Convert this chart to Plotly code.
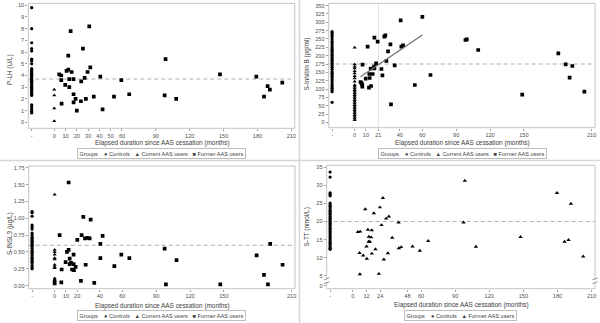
import numpy as np
import plotly.graph_objects as go

W, H = 600, 323
CTRL_POS = -20            # x position of the "-" category holding the controls
X_RANGE = [-23, 213]
FONT = "Liberation Sans, Arial, sans-serif"

# ---------------- P-LH (U/L) ----------------
lh_controls = [9.8, 8.0, 6.8, 6.3, 6.1, 5.4, 5.25, 5.0, 4.6, 4.5, 4.4, 4.3, 4.2, 4.1, 4.0,
               3.9, 3.8, 3.7, 3.6, 3.5, 3.4, 3.3, 3.2, 3.1, 3.0, 2.9, 2.8, 2.7, 2.6, 2.5,
               2.4, 2.3, 1.5, 1.35, 1.15, 1.0, 0.9, 0.8]
lh_current = [2.8, 2.3, 1.2, 0.1]
lh_former_months = [4.4, 6.2, 6.2, 6.5, 9.7, 10.9, 12.4, 12.4, 13.3, 13.3, 14.5, 15.4, 17.1, 17.1,
                    17.1, 18.9, 20.0, 23.6, 23.9, 25.4, 26.9, 28.0, 29.5, 31.0, 31.9, 35.0, 40.8,
                    42.8, 52.9, 59.4, 66.4, 97.8, 98.6, 108.0, 146.8, 179.0, 185.8, 189.0, 191.0, 202.0]
lh_former = [4.1, 4.0, 3.6, 1.6, 3.2, 4.4, 4.5, 5.7, 3.7, 3.0, 7.8, 4.3, 3.7, 2.4,
             1.7, 2.0, 1.0, 1.8, 3.5, 6.3, 3.8, 2.0, 4.3, 8.2, 4.7, 2.2, 3.9,
             1.1, 2.2, 3.6, 2.4, 2.3, 5.4, 2.0, 4.1, 3.9, 2.2, 3.1, 2.8, 3.4]
lh_ref = 3.7
lh_xticks = [0, 10, 20, 30, 40, 50, 60, 90, 120, 150, 180, 210]

# ---------------- S-Inhibin B (pg/ml) ----------------
inh_controls = [272, 268, 263, 257, 250, 243, 238, 232, 226, 221, 216, 211, 206, 201, 196, 191,
                186, 181, 176, 170, 165, 159, 152, 147, 142, 137, 131, 125, 118, 112, 107, 102,
                97, 92, 60]
inh_current = [224, 174, 167, 162, 154, 147, 139, 132, 122, 112, 107, 102, 97, 92, 87, 82,
               77, 72, 67, 62, 57, 52, 47, 42, 37, 32, 27, 22, 17, 12, 7]
inh_former_months = [5.2, 6.0, 6.6, 6.8, 7.0, 9.8, 11.5, 12.7, 13.0, 13.3, 14.2, 14.5, 16.0, 17.2,
                     17.5, 17.5, 19.0, 20.4, 23.7, 24.6, 26.3, 27.2, 28.1, 29.6, 31.7, 32.2, 35.5,
                     40.8, 41.4, 42.9, 53.3, 60.0, 67.2, 98.2, 99.4, 109.5, 148.5, 180.5, 187.0,
                     190.5, 192.9, 203.6]
inh_former = [121, 118, 114, 107, 173, 131, 227, 104, 145, 133, 161, 109, 145, 167,
              162, 254, 177, 242, 160, 141, 257, 261, 184, 213, 234, 54, 171,
              306, 227, 231, 112, 316, 142, 247, 249, 217, 83, 207, 174,
              134, 169, 92]
inh_ref = 175
inh_cut = 21
inh_fit_max = 60
inh_xticks = [0, 10, 21, 40, 60, 90, 120, 150, 210]

# ---------------- S-INSL3 (µg/L) ----------------
insl_controls = [1.10, 1.08, 1.03, 0.90, 0.87, 0.84, 0.78, 0.75, 0.72, 0.70, 0.68, 0.66, 0.64,
                 0.62, 0.60, 0.58, 0.55, 0.52, 0.50, 0.48, 0.45, 0.42, 0.40, 0.38, 0.36, 0.34,
                 0.30, 0.27, 0.25]
insl_current = [1.35, 0.53, 0.50, 0.46, 0.41, 0.39, 0.31, 0.28, 0.26, 0.11, 0.09, 0.08, 0.07,
                0.06, 0.05, 0.04, 0.03, 0.02]
insl_former_months = [4.4, 5.9, 6.2, 9.7, 10.9, 12.4, 12.4, 13.3, 13.3, 14.5, 15.4, 16.8, 16.8,
                      17.1, 18.6, 20.1, 23.3, 23.9, 25.4, 26.9, 27.5, 29.2, 31.0, 31.9, 35.1,
                      40.5, 40.5, 42.5, 52.9, 59.1, 66.2, 97.5, 98.6, 108.0, 146.8, 179.0,
                      185.5, 189.0, 191.0, 202.0]
insl_former = [0.75, 0.05, 0.24, 0.35, 0.50, 0.53, 1.53, 0.40, 0.32, 0.34, 0.24, 0.32, 0.46,
               0.23, 0.28, 0.68, 0.07, 0.75, 1.02, 0.70, 0.31, 0.71, 0.70, 0.98, 0.04,
               0.62, 0.41, 0.74, 0.29, 0.46, 0.41, 0.55, 0.02, 0.38, 0.02, 0.45,
               0.16, 0.02, 0.62, 0.31]
insl_ref = 0.60
insl_xticks = [0, 10, 20, 40, 60, 90, 120, 150, 210]

# ---------------- S-TT (nmol/L) ----------------
tt_controls = [33.7, 32.3, 27.9, 27.5, 27.1, 25.1, 24.6, 24.2, 23.7, 23.2, 22.8, 22.3, 21.9,
               21.4, 20.9, 20.5, 20.0, 19.5, 19.1, 18.6, 18.1, 17.7, 17.2, 16.8, 16.3, 15.8,
               15.4, 14.9, 14.4, 14.0, 13.5, 13.0, 12.6, 12.3]
tt_former_months = [4.4, 6.5, 5.9, 6.2, 9.1, 10.9, 12.0, 12.3, 13.2, 14.1, 13.8, 15.0, 16.1,
                    16.7, 16.7, 18.5, 19.9, 22.9, 23.8, 25.2, 26.4, 27.3, 29.3, 30.8, 31.7,
                    34.6, 40.2, 40.5, 42.5, 52.5, 58.9, 66.3, 97.4, 98.5, 108.2, 147.5,
                    179.5, 186.2, 189.7, 191.8, 202.6]
tt_former = [17.1, 17.2, 11.3, 5.4, 10.6, 23.4, 13.1, 9.7, 17.7, 15.8, 14.4, 14.4, 15.6,
             17.6, 11.1, 22.3, 12.3, 5.5, 23.9, 19.0, 26.5, 9.5, 20.8, 11.2, 21.4,
             15.5, 19.7, 12.6, 12.9, 13.1, 11.9, 14.6, 19.7, 31.3, 13.0, 15.7,
             27.9, 14.4, 14.9, 24.9, 10.3]
tt_ref = 20
tt_xticks = [0, 12, 24, 48, 60, 90, 120, 150, 180, 210]


def fx(px):
    return px / W


def fy(py):
    return 1 - py / H


fig = go.Figure()

MK = dict(color="black")


def add_groups(xa, ya, controls, current, months, former, former_symbol="square"):
    fig.add_trace(go.Scatter(x=[CTRL_POS] * len(controls), y=controls, mode="markers",
                             xaxis=xa, yaxis=ya, showlegend=False, name="Controls",
                             marker=dict(symbol="circle", size=3.2, **MK)))
    if current is not None:
        fig.add_trace(go.Scatter(x=[0] * len(current), y=current, mode="markers",
                                 xaxis=xa, yaxis=ya, showlegend=False, name="Current AAS users",
                                 marker=dict(symbol="triangle-up", size=3.7, **MK)))
    fig.add_trace(go.Scatter(x=months, y=former, mode="markers",
                             xaxis=xa, yaxis=ya, showlegend=False, name="Former AAS users",
                             marker=dict(symbol=former_symbol,
                                         size=3.9 if former_symbol != "square" else 3.7, **MK)))


add_groups("x", "y", lh_controls, lh_current, lh_former_months, lh_former)
add_groups("x2", "y2", inh_controls, inh_current, inh_former_months, inh_former)
add_groups("x3", "y3", insl_controls, insl_current, insl_former_months, insl_former)
add_groups("x4", "y4", tt_controls, None, tt_former_months, tt_former, former_symbol="triangle-up")
# lower (0) segment of the broken S-TT axis
fig.add_trace(go.Scatter(x=[], y=[], xaxis="x4", yaxis="y5", showlegend=False))

# Linear fit of inhibin B on elapsed time for former users up to 60 months
m = np.array(inh_former_months)
v = np.array(inh_former)
sel = m <= inh_fit_max
slope, icpt = np.polyfit(m[sel], v[sel], 1)
fit_x = np.array([m[sel].min(), m[sel].max()])
fig.add_trace(go.Scatter(x=fit_x, y=icpt + slope * fit_x, mode="lines", xaxis="x2", yaxis="y2",
                         showlegend=False, line=dict(color="#6b6b6b", width=1.1)))

TICKFONT = dict(family=FONT, size=5.6, color="#505050")
common = dict(showgrid=False, zeroline=False, showline=False, ticks="outside", ticklen=2,
              tickwidth=1, tickcolor="#a0a0a0", tickfont=TICKFONT)


def xax(dom, anchor, ticks):
    return dict(domain=dom, anchor=anchor, range=X_RANGE,
                tickvals=[CTRL_POS] + ticks, ticktext=["-"] + [str(t) for t in ticks], **common)


layout = dict(
    width=W, height=H, margin=dict(l=0, r=0, t=0, b=0),
    paper_bgcolor="white", plot_bgcolor="white", showlegend=False,
    xaxis=xax([fx(28.3), fx(294.7)], "y", lh_xticks),
    yaxis=dict(domain=[fy(128.3), fy(3.3)], anchor="x", range=[-0.51, 10.17],
               tickvals=list(range(0, 11)), **common),
    xaxis2=xax([fx(328.7), fx(595)], "y2", inh_xticks),
    yaxis2=dict(domain=[fy(127.7), fy(3.3)], anchor="x2", range=[-16, 357],
                tickvals=list(range(0, 351, 25)), **common),
    xaxis3=xax([fx(28.7), fx(295)], "y3", insl_xticks),
    yaxis3=dict(domain=[fy(288.7), fy(166)], anchor="x3", range=[-0.045, 1.775],
                tickvals=[i * 0.25 for i in range(8)], tickformat=".2f", **common),
    xaxis4=xax([fx(326.7), fx(595)], "y5", tt_xticks),
    yaxis4=dict(domain=[fy(278.5), fy(165.3)], anchor="x4", range=[4.22, 35.55],
                tickvals=list(range(5, 36, 5)), **common),
    yaxis5=dict(domain=[fy(288.7), fy(283)], anchor="x4", range=[-0.75, 0.83],
                tickvals=[0], **common),
)
fig.update_layout(**layout)

FRAME = dict(color="#c4c4c4", width=1)
shapes = []
# plot frames
for x0, x1, y0, y1 in [(28.3, 294.7, 3.3, 128.3), (328.7, 595, 3.3, 127.7),
                       (28.7, 295, 166, 288.7)]:
    shapes.append(dict(type="rect", xref="paper", yref="paper", x0=fx(x0), x1=fx(x1),
                       y0=fy(y1), y1=fy(y0), line=FRAME))
# broken-axis frame for S-TT
L4, R4, T4, B4 = 326.7, 595, 165.3, 288.7
for (xa, ya, xb, yb) in [(L4, T4, R4, T4), (L4, B4, R4, B4),
                         (L4, T4, L4, 278.5), (L4, 283, L4, B4),
                         (R4, T4, R4, 278.5), (R4, 283, R4, B4)]:
    shapes.append(dict(type="line", xref="paper", yref="paper", x0=fx(xa), y0=fy(ya),
                       x1=fx(xb), y1=fy(yb), line=FRAME))
for xc in (L4, R4):
    for yc in (278.9, 282.6):
        shapes.append(dict(type="line", xref="paper", yref="paper", x0=fx(xc - 2.5),
                           y0=fy(yc + 1), x1=fx(xc + 2.5), y1=fy(yc - 1),
                           line=dict(color="#8a8a8a", width=1)))
# panel separators
shapes.append(dict(type="line", xref="paper", yref="paper", x0=fx(299.5), x1=fx(299.5),
                   y0=0, y1=1, line=dict(color="#d6d6d6", width=1.5)))
shapes.append(dict(type="line", xref="paper", yref="paper", x0=0, x1=1,
                   y0=fy(160.5), y1=fy(160.5), line=dict(color="#d6d6d6", width=1.5)))

# reference levels
DASH = dict(color="#b0b0b0", width=1, dash="4px,3px")
for xr, yr, val in [("x", "y", lh_ref), ("x2", "y2", inh_ref), ("x3", "y3", insl_ref),
                    ("x4", "y4", tt_ref)]:
    shapes.append(dict(type="line", xref=f"{xr} domain", yref=yr, x0=0, x1=1, y0=val, y1=val,
                       line=DASH, layer="below"))
shapes.append(dict(type="line", xref="x2", yref="y2 domain", x0=inh_cut, x1=inh_cut, y0=0, y1=1,
                   line=dict(color="#e0e0e0", width=1), layer="below"))
fig.update_layout(shapes=shapes)

TITLE = dict(family=FONT, size=6.4, color="#404040")
ann = []
for text, xp, yp in [("P-LH (U/L)", 10, 70), ("S-Inhibin B (pg/ml)", 306.5, 64),
                     ("S-INSL3 (µg/L)", 10, 234), ("S-TT (nmol/L)", 306.5, 227)]:
    ann.append(dict(text=text, x=fx(xp), y=fy(yp), xref="paper", yref="paper",
                    textangle=-90, showarrow=False, font=TITLE, xanchor="center", yanchor="middle"))
xt = "Elapsed duration since AAS cessation (months)"
for xp, yp in [(162, 142.7), (463, 142.7), (162, 305.7), (461.5, 305.3)]:
    ann.append(dict(text=xt, x=fx(xp), y=fy(yp), xref="paper", yref="paper", showarrow=False,
                    font=TITLE, xanchor="center", yanchor="middle"))

leg3 = "Groups    \u25cf Controls   \u25b2 Current AAS users   \u25a0 Former AAS users"
leg2 = "Groups    \u25cf Controls   \u25b2 Former AAS users"
LEGFONT = dict(family=FONT, size=5.6, color="#404040")
for text, xp, yp in [(leg3, 161, 153.7), (leg3, 462, 153.7), (leg3, 161, 315.5), (leg2, 460, 315)]:
    ann.append(dict(text=text, x=fx(xp), y=fy(yp), xref="paper", yref="paper", showarrow=False,
                    font=LEGFONT, xanchor="center", yanchor="middle", bordercolor="#bdbdbd",
                    borderwidth=1, borderpad=1.5, bgcolor="white"))
fig.update_layout(annotations=ann)

fig.write_html("out.html")
